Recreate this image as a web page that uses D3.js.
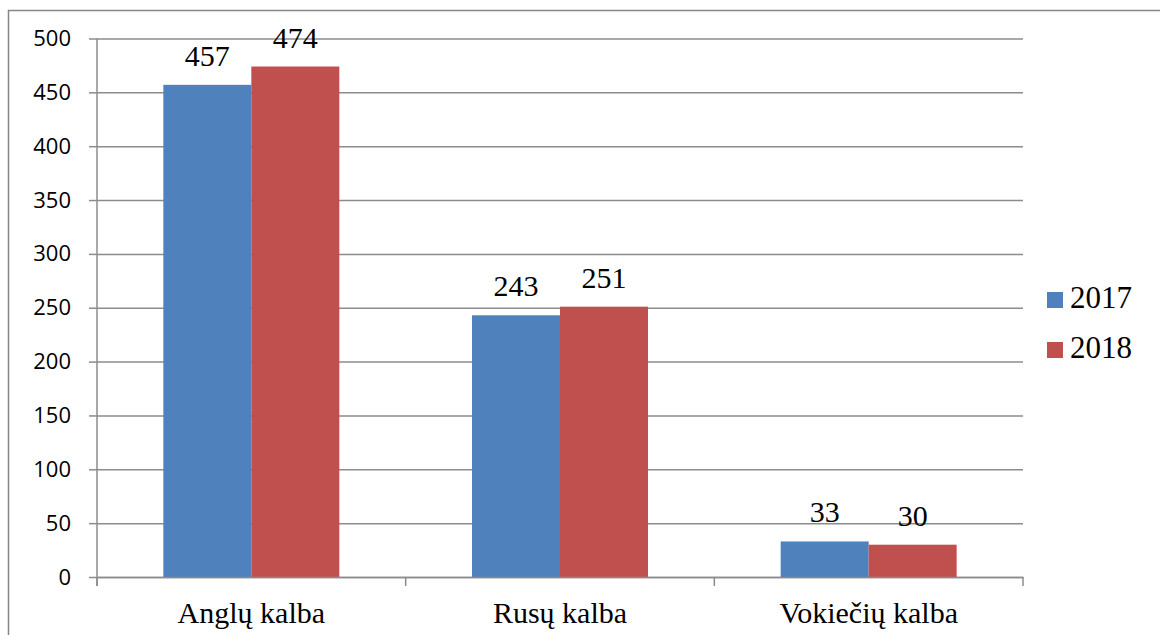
<!DOCTYPE html>
<html>
<head>
<meta charset="utf-8">
<script src="https://cdn.jsdelivr.net/npm/d3@7"></script>
<style>
    body { margin: 0; background: #fff; }
    svg { display: block; }
    .serif { font-family: "Times New Roman", "Liberation Serif", Tinos, "DejaVu Serif", serif; }
</style>
</head>
<body>
<div class="chart-container"></div>
<script>
// data
const categories = ["Anglų kalba", "Rusų kalba", "Vokiečių kalba"];
const seriesNames = ["2017", "2018"];
const values2017 = [457, 243, 33];
const values2018 = [474, 251, 30];
const yTicks = [0, 50, 100, 150, 200, 250, 300, 350, 400, 450, 500];
const colors = ["#4F81BD", "#C0504D"];

// rows for drawing
const chartData = categories.map((c, i) => ({
    category: c,
    values: [
        { series: seriesNames[0], value: values2017[i] },
        { series: seriesNames[1], value: values2018[i] },
    ]
}));

// canvas
const svg_width = 1160;
const svg_height = 635;
const plot = { left: 97, right: 1023, top: 38.5, bottom: 577 };
const serifFont = '"Times New Roman", "Liberation Serif", Tinos, "DejaVu Serif", serif';

const svg = d3.select('.chart-container').append('svg')
    .attr('width', svg_width).attr('height', svg_height);

// outer border of the chart (right/bottom run off the picture)
svg.append('rect')
    .attr('x', 8.5).attr('y', 10.5)
    .attr('width', 1200).attr('height', 700)
    .attr('fill', 'none').attr('stroke', '#868686').attr('stroke-width', 1.5);

// scales
const x0 = d3.scaleBand().domain(categories).range([plot.left, plot.right]).padding(0);
const x1 = d3.scaleBand().domain(seriesNames).range([0, x0.bandwidth()])
    .paddingInner(0).paddingOuter(0.754);
const y = d3.scaleLinear().domain([0, 500]).range([plot.bottom, plot.top]);
const color = d3.scaleOrdinal().domain(seriesNames).range(colors);

// gridlines + y axis
const yAxis = d3.axisLeft(y).tickValues(yTicks).tickSizeInner(-(plot.right - plot.left)).tickSizeOuter(0);
const yAxisDraw = svg.append('g').attr('class', 'y axis')
    .attr('transform', `translate(${plot.left},0)`).call(yAxis);
yAxisDraw.select('.domain').remove();
yAxisDraw.selectAll('.tick line').attr('stroke', '#8c8c8c').attr('stroke-width', 1.5);
// small outer tick marks left of the axis
yAxisDraw.selectAll('.tick').append('line')
    .attr('x1', -8).attr('x2', 0).attr('stroke', '#8c8c8c').attr('stroke-width', 1.5);
yAxisDraw.selectAll('text')
    .attr('x', -26)
    .style('font-family', '"Open Sans", sans-serif')
    .style('font-size', '22px').attr('fill', '#000');

// vertical axis line
svg.append('line')
    .attr('x1', plot.left).attr('x2', plot.left)
    .attr('y1', plot.top).attr('y2', plot.bottom + 9)
    .attr('stroke', '#8c8c8c').attr('stroke-width', 1.5);

// bars
const groups = svg.append('g').attr('class', 'bars').selectAll('g')
    .data(chartData).join('g')
    .attr('transform', d => `translate(${x0(d.category)},0)`);

groups.selectAll('rect').data(d => d.values).join('rect')
    .attr('x', d => x1(d.series))
    .attr('y', d => y(d.value))
    .attr('width', x1.bandwidth())
    .attr('height', d => y(0) - y(d.value))
    .attr('fill', d => color(d.series));

// value labels
groups.selectAll('text').data(d => d.values).join('text')
    .attr('class', 'serif')
    .attr('x', d => x1(d.series) + x1.bandwidth() / 2)
    .attr('y', d => y(d.value) - 19)
    .attr('text-anchor', 'middle')
    .attr('font-size', 30)
    .text(d => d.value);

// x axis
const xAxis = d3.axisBottom(x0).tickSize(0).tickPadding(0);
const xAxisDraw = svg.append('g').attr('class', 'x axis')
    .attr('transform', `translate(0,${plot.bottom})`).call(xAxis)
    .attr('font-family', null).attr('font-size', null);
xAxisDraw.select('.domain').attr('stroke', '#8c8c8c').attr('stroke-width', 1.5);
xAxisDraw.selectAll('text')
    .attr('class', 'serif')
    .attr('y', 46).attr('dy', 0)
    .attr('font-size', 30).attr('fill', '#000');

// ticks between categories
const bounds = categories.map(c => x0(c)).concat([x0.range()[1]]);
xAxisDraw.selectAll('.sep').data(bounds).join('line').attr('class', 'sep')
    .attr('x1', d => d).attr('x2', d => d)
    .attr('y1', 0).attr('y2', 9)
    .attr('stroke', '#8c8c8c').attr('stroke-width', 1.5);

// legend
const legend = svg.append('g').attr('class', 'legend')
    .attr('transform', 'translate(1047,292)');
const items = legend.selectAll('g').data(seriesNames).join('g')
    .attr('transform', (d, i) => `translate(0,${i * 50})`);
items.append('rect').attr('width', 16).attr('height', 16)
    .attr('fill', d => color(d));
items.append('text').attr('class', 'serif').attr('x', 23).attr('y', 16)
    .attr('font-size', 31)
    .text(d => d);
</script>
</body>
</html>
